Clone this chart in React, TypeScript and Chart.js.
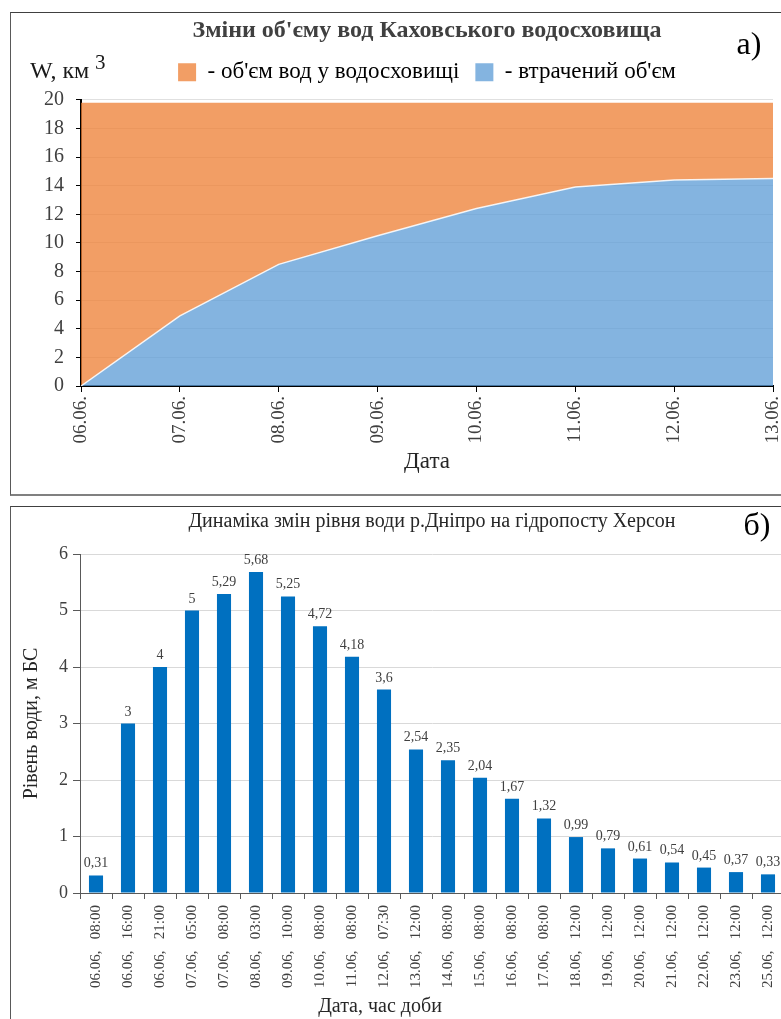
import React, { useEffect, useRef } from "react";
import { Chart, registerables } from "chart.js";

Chart.register(...registerables);

const SERIF = "'Liberation Serif', 'Times New Roman', serif";

// ---- Panel а): Kakhovka reservoir volume ----
const volumeDates = ["06.06.", "07.06.", "08.06.", "09.06.", "10.06.", "11.06.", "12.06.", "13.06."];
const lostVolume = [0, 4.9, 8.5, 10.5, 12.4, 13.9, 14.4, 14.5];
const remainingVolume = [19.8, 14.9, 11.3, 9.3, 7.4, 5.9, 5.4, 5.3];
const volumeAxisMax = 20;
const volumeAxisStep = 2;

// ---- Panel б): Dnipro water level at Kherson ----
const levelDates = [
  "06.06,", "06.06,", "06.06,", "07.06,", "07.06,", "08.06,", "09.06,", "10.06,", "11.06,", "12.06,", "13.06,",
  "14.06,", "15.06,", "16.06,", "17.06,", "18.06,", "19.06,", "20.06,", "21.06,", "22.06,", "23.06,", "25.06,",
];
const levelTimes = [
  "08:00", "16:00", "21:00", "05:00", "08:00", "03:00", "10:00", "08:00", "08:00", "07:30", "12:00",
  "08:00", "08:00", "08:00", "08:00", "12:00", "12:00", "12:00", "12:00", "12:00", "12:00", "12:00",
];
const levelValues = [
  0.31, 3, 4, 5, 5.29, 5.68, 5.25, 4.72, 4.18, 3.6, 2.54,
  2.35, 2.04, 1.67, 1.32, 0.99, 0.79, 0.61, 0.54, 0.45, 0.37, 0.33,
];
const levelAxisMax = 6;

const ORANGE = "rgba(237,125,49,0.75)";
const BLUE = "rgba(91,155,213,0.75)";
const BAR_BLUE = "#0070C0";

type TextItem = { text: string; x: number; y: number; font: string; color: string; align?: CanvasTextAlign };

function extraTexts(id: string, items: TextItem[]) {
  return {
    id,
    afterDraw(chart: any) {
      const ctx = chart.ctx as CanvasRenderingContext2D;
      ctx.save();
      ctx.textBaseline = "middle";
      for (const it of items) {
        ctx.font = it.font;
        ctx.fillStyle = it.color;
        ctx.textAlign = it.align || "left";
        ctx.fillText(it.text, it.x, it.y);
      }
      ctx.restore();
    },
  };
}

const legendSpacer = {
  id: "legendSpacer",
  beforeInit(chart: any) {
    const legend = chart.legend;
    if (!legend) return;
    const orig = legend.fit;
    legend.fit = function () {
      orig.call(this);
      this.height += 6;
    };
  },
};

const barValueLabels = {
  id: "barValueLabels",
  afterDatasetsDraw(chart: any) {
    const ctx = chart.ctx as CanvasRenderingContext2D;
    const meta = chart.getDatasetMeta(0);
    const data = chart.data.datasets[0].data as number[];
    ctx.save();
    ctx.font = `14px ${SERIF}`;
    ctx.fillStyle = "#404040";
    ctx.textAlign = "center";
    ctx.textBaseline = "alphabetic";
    meta.data.forEach((bar: any, i: number) => {
      ctx.fillText(String(data[i]).replace(".", ","), bar.x, bar.y - 8);
    });
    ctx.restore();
  },
};

function topConfig(): any {
  return {
    type: "line",
    data: {
      labels: volumeDates,
      datasets: [
        {
          label: "- втрачений об'єм",
          data: lostVolume,
          fill: "origin",
          backgroundColor: BLUE,
          borderColor: "rgba(255,255,255,0.85)",
          borderWidth: 1.5,
          pointRadius: 0,
          tension: 0,
        },
        {
          label: "- об'єм вод у водосховищі",
          data: remainingVolume,
          fill: "-1",
          backgroundColor: ORANGE,
          borderColor: "transparent",
          borderWidth: 0,
          pointRadius: 0,
          tension: 0,
        },
      ],
    },
    options: {
      animation: false,
      responsive: false,
      events: [],
      layout: { padding: { top: 0, right: 18, bottom: 0, left: 0 } },
      plugins: {
        tooltip: { enabled: false },
        title: {
          display: true,
          fullSize: false,
          text: "Зміни об'єму вод Каховського водосховища",
          color: "#404040",
          font: { family: SERIF, size: 24, weight: "bold" },
          padding: { top: 3, bottom: 0 },
        },
        legend: {
          display: true,
          position: "top",
          fullSize: false,
          reverse: true,
          labels: {
            boxWidth: 18,
            boxHeight: 18,
            padding: 16,
            color: "#262626",
            font: { family: SERIF, size: 23 },
            generateLabels: (chart: any) =>
              chart.data.datasets.map((ds: any, i: number) => ({
                text: ds.label,
                fillStyle: ds.backgroundColor,
                strokeStyle: ds.backgroundColor,
                lineWidth: 0,
                hidden: false,
                datasetIndex: i,
              })),
          },
        },
      },
      scales: {
        x: {
          offset: false,
          ticks: {
            autoSkip: false,
            maxRotation: 90,
            minRotation: 90,
            padding: 4,
            color: "#404040",
            font: { family: SERIF, size: 19 },
          },
          grid: { drawOnChartArea: false, tickColor: "#000", tickLength: 6 },
          border: { color: "#000", width: 2 },
          title: {
            display: true,
            text: "Дата",
            color: "#262626",
            font: { family: SERIF, size: 23 },
            padding: { top: 0, bottom: 17 },
          },
          afterFit: (s: any) => {
            s.height = 107;
            s.paddingLeft = 0;
            s.paddingRight = 0;
          },
        },
        y: {
          stacked: true,
          min: 0,
          max: volumeAxisMax,
          ticks: {
            stepSize: volumeAxisStep,
            padding: 12,
            color: "#404040",
            font: { family: SERIF, size: 20 },
          },
          grid: { color: "rgba(0,0,0,0.12)", tickColor: "#000", tickLength: 5 },
          border: { color: "#000", width: 2 },
          afterFit: (s: any) => {
            s.width = 70;
            s.paddingTop = 0;
            s.paddingBottom = 0;
          },
        },
      },
    },
    plugins: [
      legendSpacer,
      extraTexts("panelATexts", [
        { text: "W, км", x: 19, y: 59, font: `24px ${SERIF}`, color: "#1a1a1a" },
        { text: "3", x: 84, y: 50, font: `21px ${SERIF}`, color: "#1a1a1a" },
        { text: "а)", x: 738, y: 33, font: `32px ${SERIF}`, color: "#000", align: "center" },
      ]),
    ],
  };
}

function bottomConfig(): any {
  return {
    type: "bar",
    data: {
      labels: levelDates.map((d, i) => `${d}   ${levelTimes[i]}`),
      datasets: [
        {
          label: "Рівень води",
          data: levelValues,
          backgroundColor: BAR_BLUE,
          barPercentage: 0.44,
          categoryPercentage: 1,
        },
      ],
    },
    options: {
      animation: false,
      responsive: false,
      events: [],
      layout: { padding: { top: 0, right: 17, bottom: 0, left: 0 } },
      plugins: {
        tooltip: { enabled: false },
        legend: { display: false },
        title: {
          display: true,
          fullSize: false,
          text: "Динаміка змін рівня води р.Дніпро на гідропосту Херсон",
          color: "#262626",
          font: { family: SERIF, size: 20, weight: "normal" },
          padding: { top: 3, bottom: 20 },
        },
      },
      scales: {
        x: {
          ticks: {
            autoSkip: false,
            maxRotation: 90,
            minRotation: 90,
            padding: 6,
            color: "#404040",
            font: { family: SERIF, size: 15 },
          },
          grid: { drawOnChartArea: false, offset: true, tickColor: "#595959", tickLength: 6 },
          border: { color: "#595959", width: 1 },
          afterFit: (s: any) => {
            s.height = 126;
            s.paddingLeft = 0;
            s.paddingRight = 0;
          },
        },
        y: {
          min: 0,
          max: levelAxisMax,
          ticks: {
            stepSize: 1,
            padding: 5,
            color: "#404040",
            font: { family: SERIF, size: 18 },
          },
          grid: { color: "#d9d9d9", tickColor: "#595959", tickLength: 7 },
          border: { color: "#595959", width: 1 },
          title: {
            display: true,
            text: "Рівень води, м БС",
            color: "#262626",
            font: { family: SERIF, size: 20 },
            padding: { top: 9, bottom: 0 },
          },
          afterFit: (s: any) => {
            s.width = 69;
            s.paddingTop = 0;
            s.paddingBottom = 0;
          },
        },
      },
    },
    plugins: [
      barValueLabels,
      extraTexts("panelBTexts", [
        { text: "Дата, час доби", x: 369, y: 500, font: `20px ${SERIF}`, color: "#262626", align: "center" },
        { text: "б)", x: 746, y: 20, font: `32px ${SERIF}`, color: "#000", align: "center" },
      ]),
    ],
  };
}

export default function App() {
  const topRef = useRef<HTMLCanvasElement>(null);
  const bottomRef = useRef<HTMLCanvasElement>(null);

  useEffect(() => {
    const top = new Chart(topRef.current as HTMLCanvasElement, topConfig());
    const bottom = new Chart(bottomRef.current as HTMLCanvasElement, bottomConfig());
    return () => {
      top.destroy();
      bottom.destroy();
    };
  }, []);

  return (
    <div
      style={{
        position: "fixed",
        left: 0,
        top: 0,
        width: 781,
        height: 1019,
        overflow: "hidden",
        background: "#fff",
      }}
    >
      <div
        style={{
          position: "absolute",
          left: 10,
          top: 12,
          width: 800,
          height: 484,
          boxSizing: "border-box",
          borderTop: "1px solid #404040",
          borderLeft: "1px solid #595959",
          borderBottom: "2px solid #808080",
        }}
      />
      <canvas
        ref={topRef}
        width={780}
        height={480}
        style={{ position: "absolute", left: 11, top: 13, width: 780, height: 480 }}
      />
      <div
        style={{
          position: "absolute",
          left: 10,
          top: 506,
          width: 800,
          height: 600,
          boxSizing: "border-box",
          borderTop: "1px solid #404040",
          borderLeft: "1px solid #595959",
        }}
      />
      <canvas
        ref={bottomRef}
        width={790}
        height={512}
        style={{ position: "absolute", left: 11, top: 507, width: 790, height: 512 }}
      />
    </div>
  );
}
